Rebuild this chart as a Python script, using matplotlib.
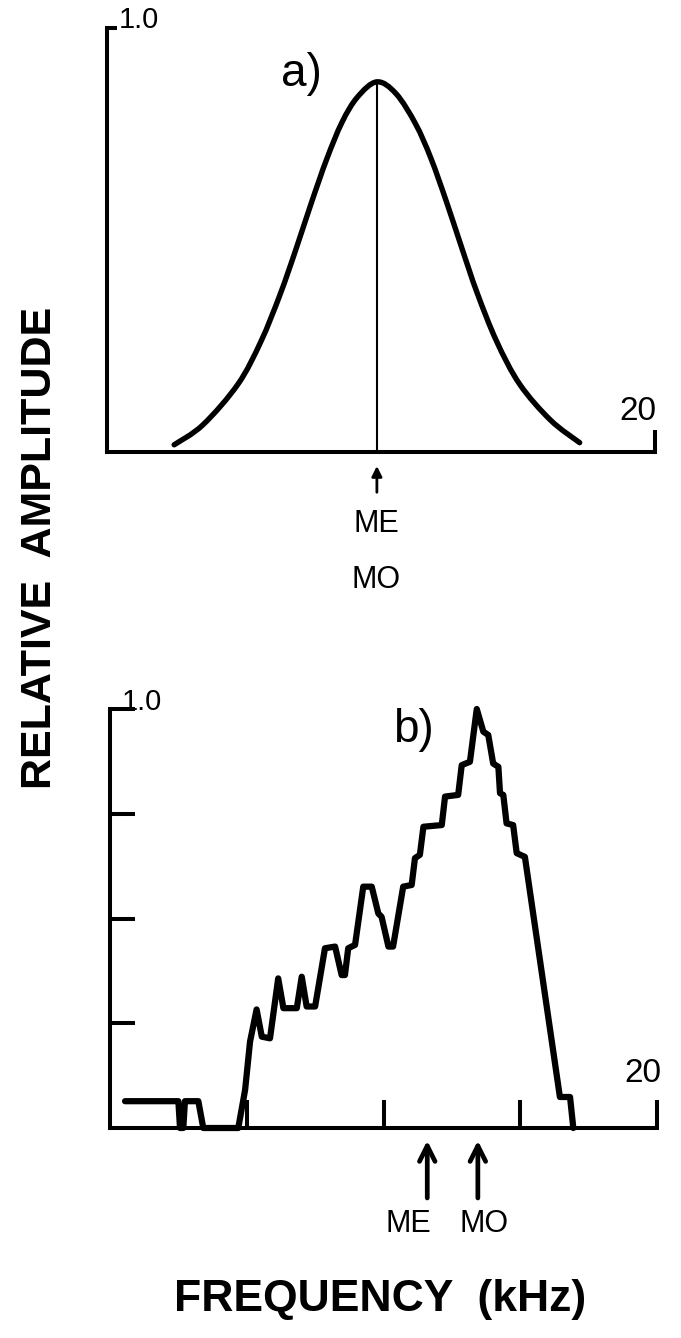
import numpy as np
import matplotlib
matplotlib.use("Agg")
import matplotlib.pyplot as plt
from matplotlib.path import Path
from matplotlib.patches import PathPatch

plt.rcParams['font.family'] = ['Liberation Sans', 'DejaVu Sans']

# ---- data: panel a (smooth spectrum) ----
a_freq = [2.45, 3.5, 4.78, 5.62, 6.32, 6.89, 7.45, 8.02, 8.58, 9.14, 9.85,
          10.55, 11.26, 11.82, 12.39, 12.95, 13.51, 14.22, 15.06, 16.19, 17.25]
a_amp = [0.017, 0.064, 0.16, 0.261, 0.372, 0.477, 0.586, 0.691, 0.778, 0.837, 0.873,
         0.845, 0.774, 0.693, 0.590, 0.481, 0.375, 0.261, 0.160, 0.075, 0.022]
a_me_mo = 9.85
a_peak = 0.873

# ---- data: panel b (stepped spectrum) ----
b_freq = [0.55, 2.50, 2.56, 2.68, 2.74, 3.23, 3.41, 4.69, 4.94, 5.12, 5.36, 5.55, 5.85,
          6.15, 6.34, 6.83, 7.01, 7.19, 7.50, 7.86, 8.23, 8.47, 8.59, 8.71, 8.96,
          9.26, 9.57, 9.81, 9.93, 10.18, 10.35, 10.72, 11.03, 11.15, 11.33, 11.46,
          12.13, 12.25, 12.73, 12.86, 13.16, 13.41, 13.65, 13.83, 14.01, 14.20,
          14.26, 14.38, 14.50, 14.74, 14.87, 15.17, 16.45, 16.82, 16.94]
b_amp = [0.064, 0.064, 0.0, 0.0, 0.064, 0.064, 0.0, 0.0, 0.091, 0.206, 0.283, 0.218, 0.214,
         0.357, 0.286, 0.286, 0.361, 0.290, 0.290, 0.429, 0.433, 0.365, 0.365, 0.429, 0.437,
         0.576, 0.576, 0.512, 0.504, 0.433, 0.433, 0.576, 0.580, 0.644, 0.652, 0.719,
         0.723, 0.791, 0.795, 0.866, 0.874, 1.0, 0.946, 0.938, 0.870, 0.862,
         0.799, 0.795, 0.727, 0.723, 0.656, 0.647, 0.074, 0.074, 0.0]
b_me = 11.6
b_mo = 13.45

W, H = 681, 1338
fig = plt.figure(figsize=(W / 100, H / 100), dpi=100)


def fx(x):
    return x / W


def fy(y):
    return 1 - y / H


def make_axes(x0, x1, ytop, ybot):
    ax = fig.add_axes([fx(x0), fy(ybot), fx(x1) - fx(x0), fy(ytop) - fy(ybot)])
    ax.set_xlim(0, 20)
    ax.set_ylim(0, 1)
    ax.patch.set_alpha(0)
    for s in ('top', 'right'):
        ax.spines[s].set_visible(False)
    for s in ('left', 'bottom'):
        ax.spines[s].set_linewidth(2.9)
        ax.spines[s].set_capstyle('projecting')
    return ax


def smooth_path(xs, ys):
    pts = np.column_stack([xs, ys])
    verts = [pts[0]]
    codes = [Path.MOVETO]
    n = len(pts)
    for i in range(n - 1):
        p0 = pts[i - 1] if i > 0 else pts[i]
        p1 = pts[i]
        p2 = pts[i + 1]
        p3 = pts[i + 2] if i + 2 < n else pts[i + 1]
        c1 = p1 + (p2 - p0) / 6.0
        c2 = p2 - (p3 - p1) / 6.0
        verts += [c1, c2, p2]
        codes += [Path.CURVE4] * 3
    return Path(verts, codes)


# ---------------- panel a ----------------
axa = make_axes(107, 655, 28, 452)
axa.set_yticks([1.0])
axa.set_xticks([20])
axa.tick_params(axis='y', direction='in', length=7, width=2.9, labelleft=False)
axa.tick_params(axis='x', direction='in', length=16, width=2.9, labelbottom=False)
axa.add_patch(PathPatch(smooth_path(a_freq, a_amp), fill=False, lw=3.9,
                        edgecolor='black', capstyle='round', joinstyle='round',
                        clip_on=False))
axa.plot([a_me_mo, a_me_mo], [0, a_peak], color='black', lw=1.5, clip_on=False)
axa.annotate('', xy=(a_me_mo, -0.033), xytext=(a_me_mo, -0.095),
             arrowprops=dict(arrowstyle='-|>', lw=2.0, color='black',
                             mutation_scale=15, shrinkA=0, shrinkB=0),
             annotation_clip=False)

fig.text(fx(119), fy(20), '1.0', fontsize=21, ha='left', va='center')
fig.text(fx(638), fy(411), '20', fontsize=24, ha='center', va='center')
fig.text(fx(301), fy(74), 'a)', fontsize=33, ha='center', va='center')
fig.text(fx(376), fy(524), 'ME', fontsize=22, ha='center', va='center')
fig.text(fx(376), fy(580), 'MO', fontsize=22, ha='center', va='center')

# ---------------- panel b ----------------
axb = make_axes(110, 657, 709, 1128)
axb.set_yticks([0.25, 0.5, 0.75, 1.0])
axb.set_xticks([5, 10, 15, 20])
axb.tick_params(axis='y', direction='in', length=18, width=2.9, labelleft=False)
axb.tick_params(axis='x', direction='in', length=20, width=2.9, labelbottom=False)
axb.plot(b_freq, b_amp, color='black', lw=4.5, solid_joinstyle='round',
         solid_capstyle='round', clip_on=False)
for f in (b_me, b_mo):
    axb.annotate('', xy=(f, -0.03), xytext=(f, -0.167),
                 arrowprops=dict(arrowstyle='->', lw=3.4, color='black',
                                 mutation_scale=28, shrinkA=0, shrinkB=0),
                 annotation_clip=False)

fig.text(fx(122), fy(702), '1.0', fontsize=21, ha='left', va='center')
fig.text(fx(643), fy(1074), '20', fontsize=24, ha='center', va='center')
fig.text(fx(413), fy(730), 'b)', fontsize=33, ha='center', va='center')
fig.text(fx(408), fy(1224), 'ME', fontsize=22, ha='center', va='center')
fig.text(fx(484), fy(1224), 'MO', fontsize=22, ha='center', va='center')

# ---------------- shared labels ----------------
fig.text(fx(40), fy(548), 'RELATIVE  AMPLITUDE', fontsize=31, rotation=90,
         fontweight='bold', ha='center', va='center')
fig.text(fx(380), fy(1300), 'FREQUENCY  (kHz)', fontsize=32, fontweight='bold',
         ha='center', va='center')

fig.savefig('out.png', dpi=100, facecolor='white')
